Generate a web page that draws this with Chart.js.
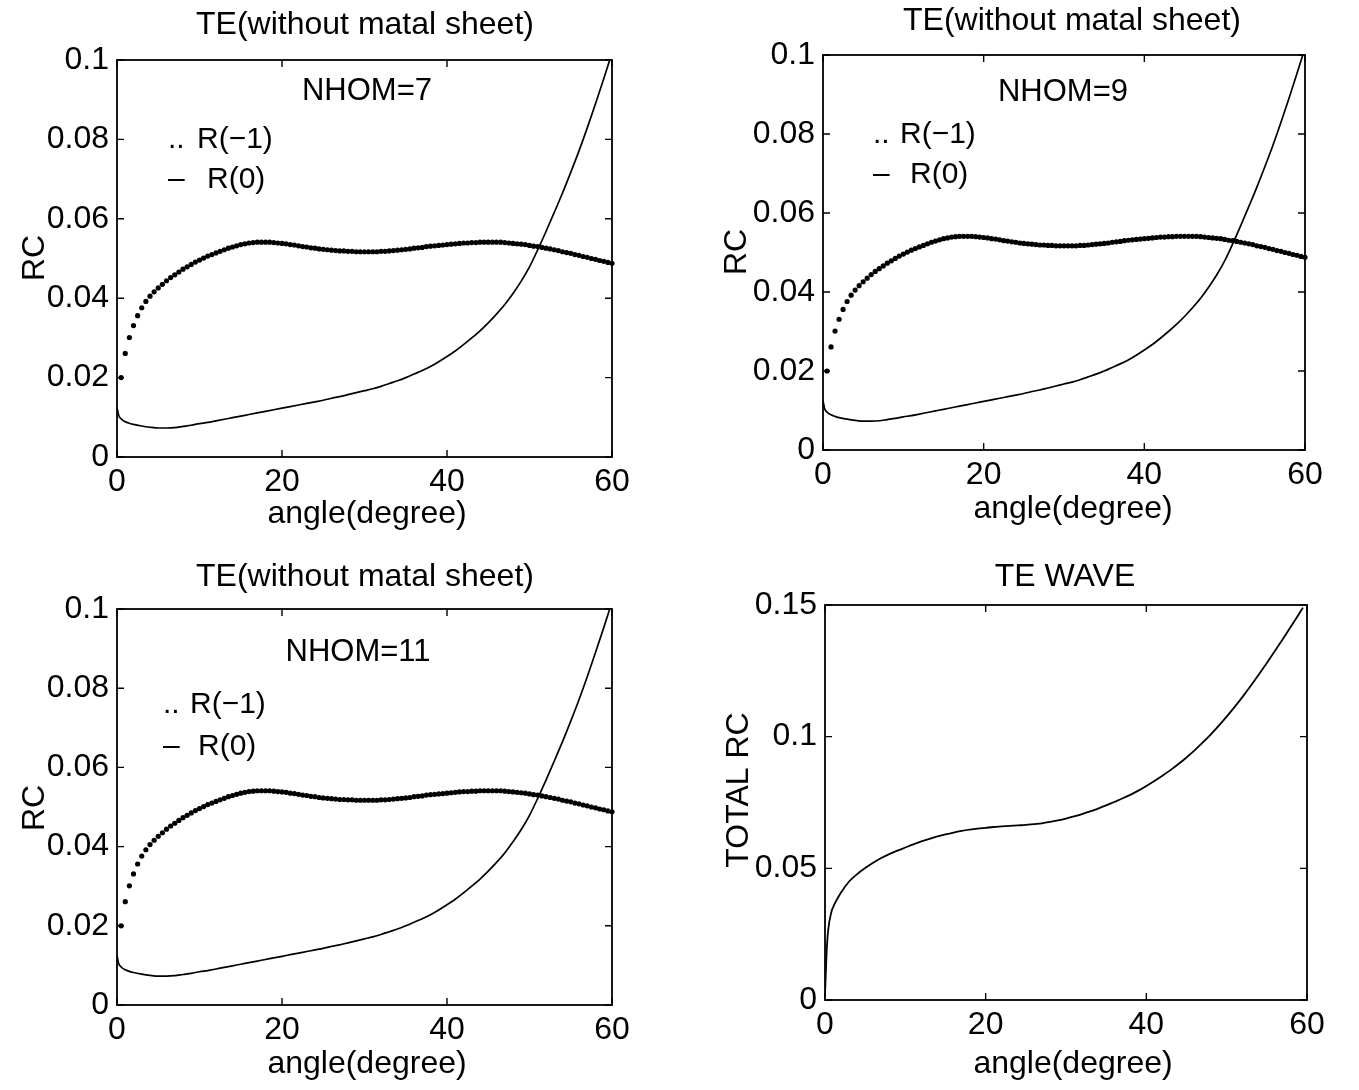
<!DOCTYPE html>
<html><head><meta charset="utf-8">
<script src="https://cdn.jsdelivr.net/npm/chart.js@4"></script>
<style>
html,body{margin:0;padding:0;background:#fff;}
#wrap{position:relative;width:1359px;height:1090px;overflow:hidden;background:#fff;}
canvas{position:absolute;}
</style></head><body>
<div id="wrap">
<canvas id="c1" width="680" height="545" style="left:0px;top:0px"></canvas>
<canvas id="c2" width="679" height="545" style="left:680px;top:0px"></canvas>
<canvas id="c3" width="680" height="545" style="left:0px;top:545px"></canvas>
<canvas id="c4" width="679" height="545" style="left:680px;top:545px"></canvas>
</div>
<script>
// ---- data ----
const xTicks = [0, 20, 40, 60];
const xTickLabels = ['0', '20', '40', '60'];
const yTicksRC = [0, 0.02, 0.04, 0.06, 0.08, 0.1];
const yTickLabelsRC = ['0', '0.02', '0.04', '0.06', '0.08', '0.1'];
const yTicksTotal = [0, 0.05, 0.1, 0.15];
const yTickLabelsTotal = ['0', '0.05', '0.1', '0.15'];

// R(-1): dotted series
const angleM1 = [0.5,1,1.5,2,2.5,3,3.5,4,4.5,5,5.5,6,6.5,7,7.5,8,8.5,9,9.5,10,
10.5,11,11.5,12,12.5,13,13.5,14,14.5,15,15.5,16,16.5,17,17.5,18,18.5,19,19.5,20,
20.5,21,21.5,22,22.5,23,23.5,24,24.5,25,25.5,26,26.5,27,27.5,28,28.5,29,29.5,30,
30.5,31,31.5,32,32.5,33,33.5,34,34.5,35,35.5,36,36.5,37,37.5,38,38.5,39,39.5,40,
40.5,41,41.5,42,42.5,43,43.5,44,44.5,45,45.5,46,46.5,47,47.5,48,48.5,49,49.5,50,
50.5,51,51.5,52,52.5,53,53.5,54,54.5,55,55.5,56,56.5,57,57.5,58,58.5,59,59.5,60];
const rM1 = [0.0200,0.0261,0.0301,0.0331,0.0356,0.0376,0.0392,0.0405,0.0416,0.0426,
0.0435,0.0444,0.0452,0.0459,0.0466,0.0473,0.0479,0.0485,0.0491,0.0496,
0.0501,0.0506,0.0510,0.0514,0.0518,0.0522,0.0526,0.0529,0.0532,0.0535,
0.0537,0.0539,0.0540,0.0541,0.0541,0.0541,0.0541,0.0540,0.0539,0.0538,
0.0537,0.0535,0.0534,0.0532,0.0530,0.0529,0.0527,0.0526,0.0524,0.0523,
0.0522,0.0521,0.0520,0.0519,0.0519,0.0518,0.0518,0.0517,0.0517,0.0517,
0.0517,0.0517,0.0517,0.0518,0.0518,0.0519,0.0520,0.0521,0.0522,0.0523,
0.0524,0.0526,0.0527,0.0528,0.0530,0.0531,0.0532,0.0533,0.0534,0.0535,
0.0536,0.0537,0.0538,0.0539,0.0539,0.0540,0.0540,0.0541,0.0541,0.0541,
0.0541,0.0541,0.0541,0.0540,0.0539,0.0538,0.0537,0.0536,0.0535,0.0533,
0.0531,0.0530,0.0528,0.0526,0.0524,0.0522,0.0520,0.0517,0.0515,0.0513,
0.0510,0.0508,0.0505,0.0503,0.0500,0.0498,0.0495,0.0493,0.0490,0.0488];

// R(0): solid series
const angle0 = [0,0.2,0.5,1,1.5,2,3,4,5,6,7,8,9,10,11,12,13,14,15,16,17,18,19,20,
21,22,23,24,25,26,27,28,29,30,31,32,33,34,35,36,37,38,39,40,
41,42,43,44,45,46,47,48,49,50,51,52,53,54,55,56,57,58,59,60];
const r0 = [0.0125,0.0105,0.0096,0.0089,0.0085,0.0082,0.0078,0.0075,0.0073,0.0073,
0.0074,0.0077,0.0080,0.0084,0.0087,0.0091,0.0095,0.0099,0.0103,0.0107,
0.0111,0.0115,0.0119,0.0123,0.0127,0.0131,0.0135,0.0139,0.0143,0.0148,
0.0152,0.0157,0.0162,0.0167,0.0172,0.0178,0.0185,0.0192,0.0200,0.0209,
0.0218,0.0228,0.0240,0.0253,0.0267,0.0283,0.0300,0.0318,0.0338,0.0360,
0.0384,0.0412,0.0443,0.0479,0.0522,0.0568,0.0616,0.0665,0.0717,0.0771,
0.0829,0.0890,0.0953,0.1018];

// TE WAVE total RC
const angleTotal = [0,0.2,0.4,0.8,1,2,3,4,5,6,7,8,9,10,11,12,13,14,15,16,17,18,19,20,
21,22,23,24,25,26,27,28,29,30,31,32,33,34,35,36,37,38,39,40,
41,42,43,44,45,46,47,48,49,50,51,52,53,54,55,56,57,58,59,59.5];
const totalRC = [0.0020,0.0180,0.0266,0.0335,0.0352,0.0408,0.0450,0.0478,0.0501,0.0521,
0.0539,0.0554,0.0567,0.0579,0.0591,0.0602,0.0612,0.0621,0.0629,0.0636,
0.0642,0.0647,0.0651,0.0654,0.0657,0.0659,0.0661,0.0663,0.0665,0.0668,
0.0671,0.0676,0.0682,0.0689,0.0697,0.0706,0.0716,0.0727,0.0739,0.0752,
0.0765,0.0779,0.0795,0.0813,0.0832,0.0852,0.0873,0.0896,0.0921,0.0948,
0.0977,0.1008,0.1041,0.1076,0.1113,0.1152,0.1193,0.1236,0.1280,0.1325,
0.1371,0.1418,0.1466,0.1490];

// ---- drawing ----
const FAMILY = '"Liberation Sans", Arial, Helvetica, sans-serif';
const TICK_FONT = 32;
const pts = (xs, ys) => xs.map((v, i) => ({x: v, y: ys[i]}));

const boxPlugin = {
  id: 'box',
  afterDraw(chart, args, opts) {
    const {ctx, chartArea: a} = chart;
    const x = chart.scales.x, y = chart.scales.y;
    ctx.save();
    ctx.strokeStyle = '#000';
    ctx.lineWidth = 1.8;
    ctx.strokeRect(a.left, a.top, a.right - a.left, a.bottom - a.top);
    ctx.lineWidth = 1.4;
    ctx.beginPath();
    const L = 7;
    x.ticks.forEach(t => {
      const p = x.getPixelForValue(t.value);
      ctx.moveTo(p, a.bottom); ctx.lineTo(p, a.bottom - L);
      ctx.moveTo(p, a.top); ctx.lineTo(p, a.top + L);
    });
    y.ticks.forEach(t => {
      const p = y.getPixelForValue(t.value);
      ctx.moveTo(a.left, p); ctx.lineTo(a.left + L, p);
      ctx.moveTo(a.right, p); ctx.lineTo(a.right - L, p);
    });
    ctx.stroke();
    ctx.fillStyle = '#000';
    (opts.texts || []).forEach(t => {
      ctx.font = (t.size || 32) + 'px ' + FAMILY;
      ctx.textAlign = t.align || 'center';
      ctx.textBaseline = 'alphabetic';
      if (t.rot) {
        ctx.save();
        ctx.translate(t.x, t.y);
        ctx.rotate(-Math.PI / 2);
        ctx.fillText(t.text, 0, 0);
        ctx.restore();
      } else {
        ctx.fillText(t.text, t.x, t.y);
      }
    });
    ctx.restore();
  }
};

function makeChart(id, area, datasets, yMax, yTicks, yLabels, texts) {
  const canvas = document.getElementById(id);
  const W = canvas.width, H = canvas.height;
  const XH = 60;
  return new Chart(canvas, {
    type: 'scatter',
    data: {datasets},
    options: {
      responsive: false,
      animation: false,
      devicePixelRatio: 1,
      events: [],
      layout: {padding: {left: 0, top: area.t, right: W - area.r, bottom: H - area.b - XH}},
      plugins: {legend: {display: false}, tooltip: {enabled: false}, title: {display: false}, box: {texts}},
      scales: {
        x: {
          type: 'linear', position: 'bottom', min: 0, max: 60,
          afterBuildTicks: s => { s.ticks = xTicks.map(v => ({value: v})); },
          afterFit: s => { s.height = XH; s.paddingLeft = 0; s.paddingRight = 0; },
          grid: {display: false, drawTicks: false},
          border: {display: false},
          ticks: {padding: 6, color: '#000', autoSkip: false, maxRotation: 0,
            font: {size: TICK_FONT, family: FAMILY}, callback: (v, i) => xTickLabels[i]}
        },
        y: {
          type: 'linear', position: 'left', min: 0, max: yMax,
          afterBuildTicks: s => { s.ticks = yTicks.map(v => ({value: v})); },
          afterFit: s => { s.width = area.l; s.paddingTop = 0; s.paddingBottom = 0; },
          grid: {display: false, drawTicks: false},
          border: {display: false},
          ticks: {padding: 8, color: '#000', autoSkip: false,
            font: {size: TICK_FONT, family: FAMILY}, callback: (v, i) => yLabels[i]}
        }
      }
    },
    plugins: [boxPlugin]
  });
}

function teDatasets() {
  return [
    {label: 'R(-1)', data: pts(angleM1, rM1), showLine: false, pointRadius: 2.6,
     pointBackgroundColor: '#000', pointBorderWidth: 0, clip: 4},
    {label: 'R(0)', data: pts(angle0, r0), showLine: true, borderColor: '#000', borderWidth: 1.7,
     pointRadius: 0, cubicInterpolationMode: 'monotone', clip: 0}
  ];
}

function teTexts(o) {
  return [
    {text: 'TE(without matal sheet)', x: o.tx, y: o.ty},
    {text: 'angle(degree)', x: o.ax, y: o.ay},
    {text: 'RC', x: o.rx, y: o.ry, rot: true},
    {text: o.nhom, x: o.nx, y: o.ny, size: 31},
    {text: '..', x: o.lx, y: o.l1, align: 'left', size: 30},
    {text: 'R(\u22121)', x: o.r1x, y: o.l1, align: 'left', size: 30},
    {text: '\u2013', x: o.lx, y: o.l2, align: 'left', size: 30},
    {text: 'R(0)', x: o.r2x, y: o.l2, align: 'left', size: 30}
  ];
}

makeChart('c1', {l: 117, r: 612, t: 60, b: 457}, teDatasets(), 0.1, yTicksRC, yTickLabelsRC,
  teTexts({tx: 365, ty: 34, ax: 367, ay: 523, rx: 44, ry: 258, nhom: 'NHOM=7', nx: 367, ny: 100,
           lx: 168, r1x: 197, r2x: 207, l1: 148, l2: 188}));

makeChart('c2', {l: 143, r: 625, t: 55, b: 450}, teDatasets(), 0.1, yTicksRC, yTickLabelsRC,
  teTexts({tx: 392, ty: 30, ax: 393, ay: 518, rx: 66, ry: 252, nhom: 'NHOM=9', nx: 383, ny: 101,
           lx: 193, r1x: 220, r2x: 230, l1: 143, l2: 183}));

makeChart('c3', {l: 117, r: 612, t: 64, b: 460}, teDatasets(), 0.1, yTicksRC, yTickLabelsRC,
  teTexts({tx: 365, ty: 41, ax: 367, ay: 528, rx: 44, ry: 263, nhom: 'NHOM=11', nx: 358, ny: 116,
           lx: 163, r1x: 190, r2x: 198, l1: 168, l2: 210}));

makeChart('c4', {l: 145, r: 627, t: 60, b: 455},
  [{label: 'TOTAL RC', data: pts(angleTotal, totalRC), showLine: true, borderColor: '#000', borderWidth: 1.8,
    pointRadius: 0, cubicInterpolationMode: 'monotone', clip: 0}],
  0.15, yTicksTotal, yTickLabelsTotal,
  [
    {text: 'TE WAVE', x: 385, y: 41},
    {text: 'angle(degree)', x: 393, y: 528},
    {text: 'TOTAL RC', x: 68, y: 245, rot: true}
  ]);
</script>
</body></html>
